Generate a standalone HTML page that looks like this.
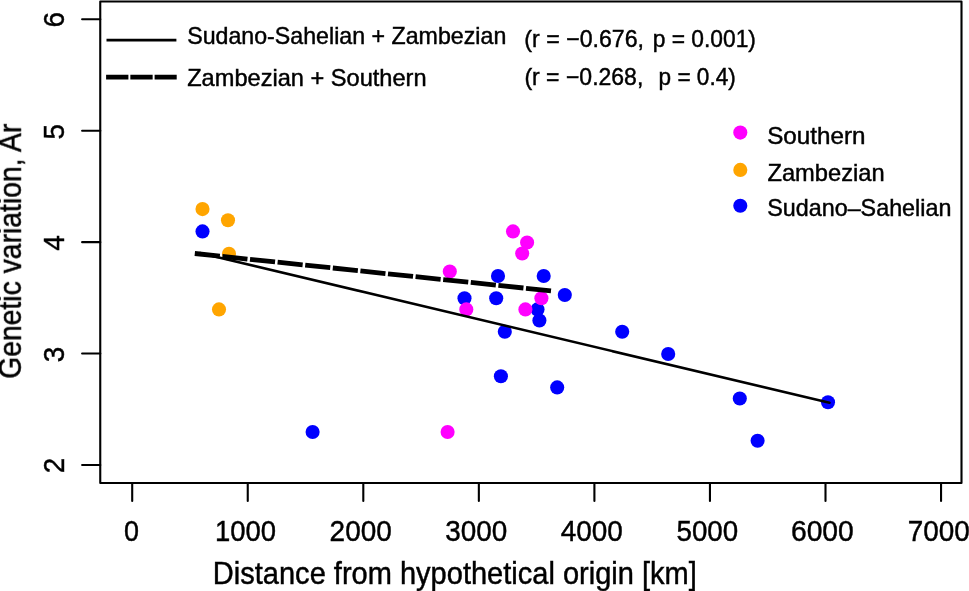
<!DOCTYPE html>
<html><head><meta charset="utf-8"><style>
html,body{margin:0;padding:0;background:#fff;width:969px;height:591px;overflow:hidden}
svg{display:block}
text{font-family:"Liberation Sans",sans-serif;fill:#000}
.tx{filter:grayscale(1)}
.tx text{stroke:#000;stroke-width:0.45px}
</style></head><body>
<svg width="969" height="591" viewBox="0 0 969 591">
<rect x="0" y="0" width="969" height="591" fill="#fff"/>
<g stroke="#000" stroke-width="2.1" stroke-linecap="round" fill="none">
<rect x="100.25" y="1.55" width="861.25" height="481.45" stroke-linejoin="round"/>
<line x1="132.20" y1="483" x2="132.20" y2="500.9"/><line x1="247.75" y1="483" x2="247.75" y2="500.9"/><line x1="363.30" y1="483" x2="363.30" y2="500.9"/><line x1="478.85" y1="483" x2="478.85" y2="500.9"/><line x1="594.40" y1="483" x2="594.40" y2="500.9"/><line x1="709.95" y1="483" x2="709.95" y2="500.9"/><line x1="825.50" y1="483" x2="825.50" y2="500.9"/><line x1="941.05" y1="483" x2="941.05" y2="500.9"/><line x1="82.1" y1="19.18" x2="100.3" y2="19.18"/><line x1="82.1" y1="130.71" x2="100.3" y2="130.71"/><line x1="82.1" y1="242.14" x2="100.3" y2="242.14"/><line x1="82.1" y1="353.57" x2="100.3" y2="353.57"/><line x1="82.1" y1="465.00" x2="100.3" y2="465.00"/>
</g>
<g class="tx">
<text transform="translate(123.89,541.00) scale(0.9103,1)" font-size="29.6">0</text>
<text transform="translate(214.95,541.00) scale(0.9270,1)" font-size="29.6">1000</text>
<text transform="translate(329.62,541.00) scale(0.9443,1)" font-size="29.6">2000</text>
<text transform="translate(445.16,541.00) scale(0.9422,1)" font-size="29.6">3000</text>
<text transform="translate(560.63,541.00) scale(0.9442,1)" font-size="29.6">4000</text>
<text transform="translate(676.56,541.00) scale(0.9359,1)" font-size="29.6">5000</text>
<text transform="translate(790.91,541.00) scale(0.9553,1)" font-size="29.6">6000</text>
<text transform="translate(907.82,541.00) scale(0.9415,1)" font-size="29.6">7000</text>
<text transform="translate(212.86,584.40) scale(0.9490,1)" font-size="30.6">Distance from hypothetical origin [km]</text>
<text transform="translate(187.16,44.40) scale(0.9833,1)" font-size="23.6">Sudano-Sahelian + Zambezian</text>
<text transform="translate(187.20,85.70) scale(1.0000,1)" font-size="23.6">Zambezian + Southern</text>
<text transform="translate(524.37,46.90) scale(0.9811,1)" font-size="23.6">(r = −0.676,</text>
<text transform="translate(652.69,46.90) scale(0.9656,1)" font-size="23.6">p = 0.001)</text>
<text transform="translate(524.38,85.20) scale(0.9752,1)" font-size="23.6">(r = −0.268,</text>
<text transform="translate(658.61,85.20) scale(0.9559,1)" font-size="23.6">p = 0.4)</text>
<text transform="translate(767.23,143.80) scale(1.0261,1)" font-size="23.6">Southern</text>
<text transform="translate(767.50,180.50) scale(1.0039,1)" font-size="23.6">Zambezian</text>
<text transform="translate(767.26,216.40) scale(0.9883,1)" font-size="23.6">Sudano–Sahelian</text>
<text transform="translate(20.90,378.86) rotate(-90) scale(0.9263,1)" font-size="30.6">Genetic variation, Ar</text>
<text transform="translate(64.30,27.62) rotate(-90) scale(0.9415,1)" font-size="29.6">6</text>
<text transform="translate(64.30,139.57) rotate(-90) scale(0.9415,1)" font-size="29.6">5</text>
<text transform="translate(64.30,250.85) rotate(-90) scale(0.9415,1)" font-size="29.6">4</text>
<text transform="translate(64.30,362.37) rotate(-90) scale(0.9415,1)" font-size="29.6">3</text>
<text transform="translate(64.30,473.37) rotate(-90) scale(0.9415,1)" font-size="29.6">2</text>
</g>
<circle cx="202.50" cy="209.11" r="7.05" fill="#FFA500"/><circle cx="228.00" cy="220.25" r="7.05" fill="#FFA500"/><circle cx="229.00" cy="253.68" r="7.05" fill="#FFA500"/><circle cx="219.00" cy="309.40" r="7.05" fill="#FFA500"/><circle cx="202.50" cy="231.40" r="7.05" fill="#0000FF"/><circle cx="312.60" cy="431.97" r="7.05" fill="#0000FF"/><circle cx="464.50" cy="298.25" r="7.05" fill="#0000FF"/><circle cx="496.20" cy="298.25" r="7.05" fill="#0000FF"/><circle cx="498.00" cy="275.97" r="7.05" fill="#0000FF"/><circle cx="543.70" cy="275.97" r="7.05" fill="#0000FF"/><circle cx="564.80" cy="295.00" r="7.05" fill="#0000FF"/><circle cx="537.50" cy="309.40" r="7.05" fill="#0000FF"/><circle cx="539.40" cy="320.54" r="7.05" fill="#0000FF"/><circle cx="504.80" cy="331.68" r="7.05" fill="#0000FF"/><circle cx="500.90" cy="376.26" r="7.05" fill="#0000FF"/><circle cx="557.20" cy="387.40" r="7.05" fill="#0000FF"/><circle cx="622.20" cy="331.68" r="7.05" fill="#0000FF"/><circle cx="668.20" cy="353.97" r="7.05" fill="#0000FF"/><circle cx="739.80" cy="398.54" r="7.05" fill="#0000FF"/><circle cx="828.00" cy="402.30" r="7.05" fill="#0000FF"/><circle cx="757.60" cy="440.80" r="7.05" fill="#0000FF"/><circle cx="449.80" cy="271.50" r="7.05" fill="#FF00FF"/><circle cx="513.00" cy="231.40" r="7.05" fill="#FF00FF"/><circle cx="527.10" cy="242.54" r="7.05" fill="#FF00FF"/><circle cx="522.20" cy="253.50" r="7.05" fill="#FF00FF"/><circle cx="466.30" cy="309.40" r="7.05" fill="#FF00FF"/><circle cx="525.40" cy="309.40" r="7.05" fill="#FF00FF"/><circle cx="541.40" cy="298.25" r="7.05" fill="#FF00FF"/><circle cx="447.60" cy="431.97" r="7.05" fill="#FF00FF"/>
<line x1="200" y1="253.0" x2="829.5" y2="402.8" stroke="#000" stroke-width="2.6" stroke-linecap="round"/>
<line x1="194.8" y1="253.5" x2="551" y2="290.9" stroke="#000" stroke-width="4.8" stroke-dasharray="25.2 2.55" stroke-linecap="butt"/>
<line x1="106.5" y1="40.1" x2="176.4" y2="40.1" stroke="#000" stroke-width="2.6" stroke-linecap="butt"/>
<line x1="106.1" y1="77.2" x2="176.7" y2="77.2" stroke="#000" stroke-width="4.7" stroke-dasharray="22.3 1.95" stroke-linecap="butt"/>
<circle cx="740.3" cy="132.6" r="7.05" fill="#FF00FF"/>
<circle cx="740.3" cy="169.9" r="7.05" fill="#FFA500"/>
<circle cx="740.3" cy="205.8" r="7.05" fill="#0000FF"/>
</svg>
</body></html>
